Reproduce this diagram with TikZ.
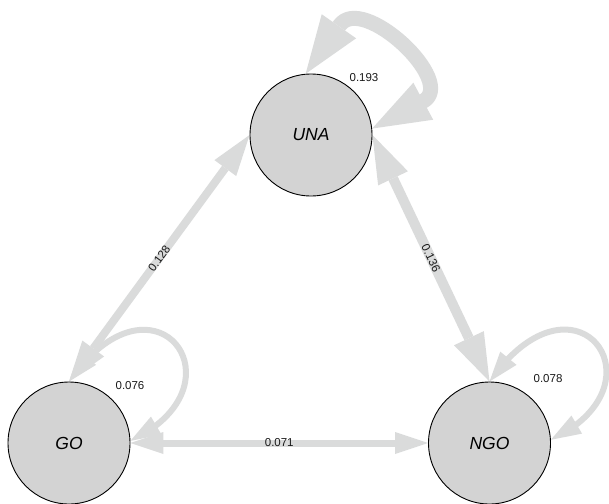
\documentclass[tikz,border=0pt]{standalone}
\usepackage{fontspec}
\setmainfont{Liberation Sans}
\usetikzlibrary{arrows.meta,bending,backgrounds}
\definecolor{edgegray}{RGB}{218,219,219}
\definecolor{nodegray}{RGB}{211,211,211}
\begin{document}
\begin{tikzpicture}[x=1pt,y=1pt,
  state/.style={circle, draw=black, line width=0.9pt, fill=nodegray,
    minimum size=122pt, inner sep=0pt,
    font=\fontsize{17.5}{21}\selectfont\itshape},
  elabel/.style={font=\fontsize{11.5}{13}\selectfont, inner sep=0pt, text=black!90},
  conn/.style={draw=edgegray, line cap=butt, line join=round},
  tipsize/.style 2 args={>={Triangle[length=#1 0,width=#2 0,line width=0pt 0]}, <->},
]
\useasboundingbox (0,0) rectangle (609,-503);
\node[state] (UNA) at (311,-135) {UNA};
\node[state] (GO) at (69,-443) {GO};
\node[state] (NGO) at (489.5,-443) {NGO};
\coordinate (unaback) at (422.9,-101.4);
\begin{scope}[on background layer]
  % self loops
  \draw[conn, line width=15pt, tipsize={58pt}{42pt}] (UNA.95) -- ++(55:59)
     .. controls +(55:40) and +(28:40) .. (unaback) -- (UNA.6);
  \draw[conn, line width=6pt, tipsize={30pt}{21pt}] (GO.90) .. controls +(55:150) and +(25:130) .. (GO.2);
  \draw[conn, line width=6pt, tipsize={30pt}{21pt}] (NGO.90) .. controls +(55:150) and +(25:130) .. (NGO.3);
  % edges between nodes
  \draw[conn, line width=8pt, tipsize={41pt}{27pt}] (GO.north) -- node[elabel, sloped] (l128) {0.128} (UNA.west);
  \draw[conn, line width=10pt, tipsize={48pt}{33pt}] (UNA.east) -- node[elabel, sloped] (l136) {0.136} (NGO.north);
  \draw[conn, line width=7pt, tipsize={33pt}{22pt}] (GO.east) -- node[elabel] (l071) {0.071} (NGO.west);
\end{scope}
\node[elabel] (l193) at (364,-78) {0.193};
\node[elabel] (l076) at (130,-386) {0.076};
\node[elabel] (l078) at (548,-378.5) {0.078};
\end{tikzpicture}
\end{document}
